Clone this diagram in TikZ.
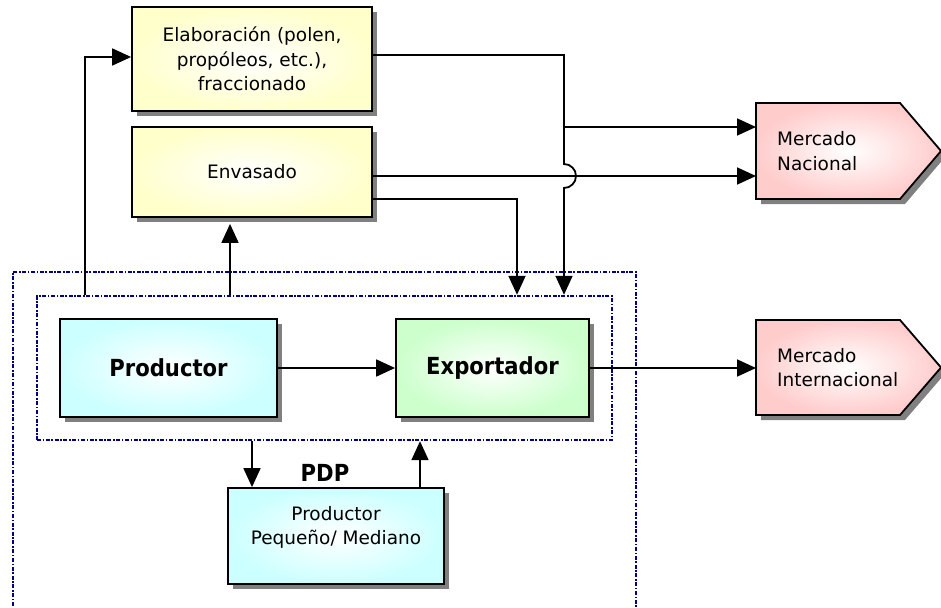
\documentclass[tikz,border=0pt]{standalone}
\usepackage{fontspec}
\setmainfont{DejaVu Sans}
\newfontfamily\headfont{DejaVu Sans Condensed}
\usetikzlibrary{arrows.meta,shadows}

\definecolor{boxyellow}{RGB}{255,255,204}
\definecolor{boxcyan}{RGB}{204,255,255}
\definecolor{boxgreen}{RGB}{204,255,204}
\definecolor{boxpink}{RGB}{255,204,204}
\definecolor{zoneblue}{RGB}{0,0,128}
\definecolor{shadowgray}{RGB}{128,128,128}

\tikzset{
  bodytext/.style={font=\fontsize{18.5pt}{24.5pt}\selectfont},
  headtext/.style={font=\headfont\bfseries\fontsize{23.5pt}{28pt}\selectfont},
  boxshadow/.style={drop shadow={shadow xshift=5pt, shadow yshift=-5pt, fill=shadowgray, opacity=1}},
  card/.style={rectangle, draw=black, line width=1.8pt, inner sep=0pt, align=center,
    bodytext, boxshadow, inner color=white},
  yellowcard/.style={card, outer color=boxyellow},
  cyancard/.style={card, outer color=boxcyan},
  greencard/.style={card, outer color=boxgreen},
  market/.style={draw=black, line width=1.8pt, boxshadow, inner color=white, outer color=boxpink},
  marketlabel/.style={rectangle, anchor=west, inner xsep=21pt, inner ysep=0pt,
    minimum height=96pt, align=left, bodytext},
  zone/.style={rectangle, draw=zoneblue, line width=2.4pt,
    dash pattern=on 4pt off 1.6pt on 1.6pt off 1.6pt, inner sep=0pt},
  flow/.style={draw=black, line width=1.8pt, -{Triangle[length=19pt,width=17pt]}},
  link/.style={draw=black, line width=1.8pt}
}

\begin{document}
\begin{tikzpicture}[x=1pt, y=-1pt]
  \useasboundingbox (0,0) rectangle (941,607);
  \clip (0,0) rectangle (941,607);

  % dotted zones: the whole PDP area and the producer/exporter group
  \node[zone, minimum width=623pt, minimum height=360pt] (outer) at (324.5,452) {};
  \node[zone, minimum width=575pt, minimum height=144pt] (inner) at (324.5,368) {};

  % processing boxes
  \node[yellowcard, minimum width=240pt, minimum height=104pt] (elab) at (252,59)
    {Elaboración (polen,\\propóleos, etc.),\\fraccionado};
  \node[yellowcard, minimum width=240pt, minimum height=90pt] (env) at (252,172) {Envasado};

  % main actors
  \node[cyancard, headtext, minimum width=217pt, minimum height=98pt] (prod) at (168.5,368) {Productor};
  \node[greencard, headtext, minimum width=193pt, minimum height=98pt] (exp) at (492.5,368) {Exportador};
  \node[cyancard, minimum width=216pt, minimum height=96pt] (ppm) at (336,536)
    {\raisebox{4pt}[0pt][0pt]{\begin{tabular}{@{}c@{}}Productor\\Pequeño/ Mediano\end{tabular}}};
  \node[headtext] (pdp) at (325,473) {PDP};

  % markets (pointed signs)
  \path[market] (756,103) -- (900,103) -- (941,151) -- (900,199) -- (756,199) -- cycle;
  \node[marketlabel] (mn) at (756,151) {Mercado\\Nacional};
  \path[market] (756,320) -- (900,320) -- (941,367.5) -- (900,415) -- (756,415) -- cycle;
  \node[marketlabel] (mi) at (756,367.5) {Mercado\\Internacional};

  % routing columns
  \coordinate (c1) at (85,0);
  \coordinate (c2) at (230,0);
  \coordinate (c3) at (517,0);
  \coordinate (c5) at (252,0);
  \coordinate (c6) at (420,0);
  \coordinate (j) at (564,127);
  \coordinate (e1) at ([yshift=-4pt]env.east);
  \coordinate (e2) at ([yshift=-27pt]env.east);

  % connectors
  \draw[flow] (inner.north -| c1) |- ([yshift=2pt]elab.west);
  \draw[flow] (inner.north -| c2) -- ([yshift=-6pt]env.south -| c2);
  \draw[link] ([yshift=4pt]elab.east) -| (j);
  \draw[flow] (j) -- (j -| mn.west);
  \draw[flow] (j) -- ++(0,37) arc[start angle=90, end angle=-90, radius=12pt] -- (inner.north -| j);
  \draw[flow] (e1) -- (e1 -| mn.west);
  \draw[flow] (e2) -| (inner.north -| c3);
  \draw[flow] (prod) -- (exp);
  \draw[flow] (exp.east) -- (exp.east -| mi.west);
  \draw[flow] (inner.south -| c5) -- (ppm.north -| c5);
  \draw[flow] (ppm.north -| c6) -- (inner.south -| c6);
\end{tikzpicture}
\end{document}
